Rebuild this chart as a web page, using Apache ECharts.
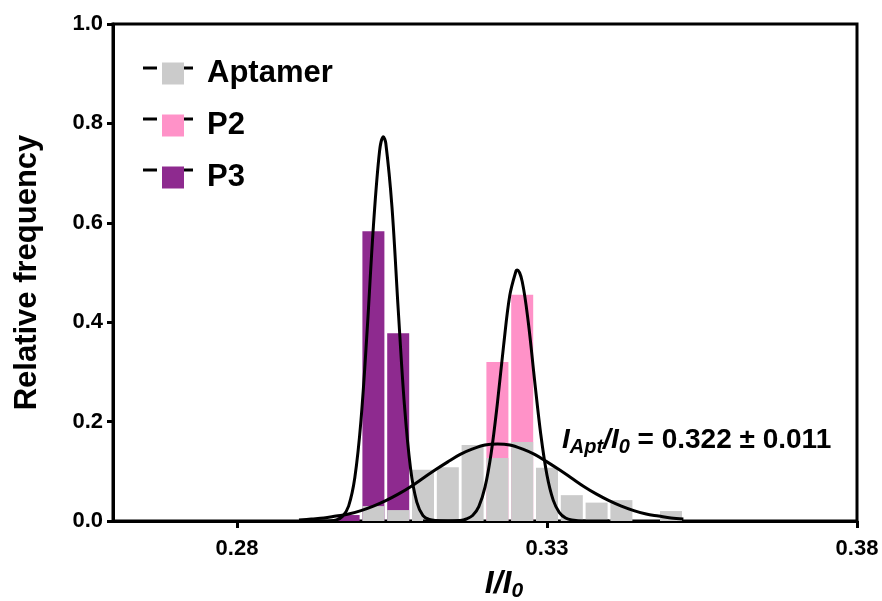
<!DOCTYPE html>
<html>
<head>
<meta charset="utf-8">
<script src="https://cdn.jsdelivr.net/npm/echarts@6/dist/echarts.min.js"></script>
<style>html,body{margin:0;padding:0;background:#fff}#c{width:882px;height:601px}</style>
</head>
<body>
<div id="c"></div>
<script>
// ---- data ----
const xTicks = [0.28, 0.33, 0.38];
const yTicks = [0, 0.2, 0.4, 0.6, 0.8, 1.0];
const seriesNames = ['Aptamer', 'P2', 'P3'];

// histogram bins (bin centre, relative frequency)
const aptX = [0.302, 0.306, 0.310, 0.314, 0.318, 0.322, 0.326, 0.330, 0.334, 0.338, 0.342, 0.350];
const aptY = [0.030, 0.022, 0.103, 0.108, 0.153, 0.127, 0.159, 0.107, 0.052, 0.037, 0.042, 0.020];
const p2X = [0.322, 0.326];
const p2Y = [0.320, 0.455];
const p3X = [0.298, 0.302, 0.306];
const p3Y = [0.012, 0.583, 0.378];

// fitted curves, points
const aptFitX = [0.290,0.292,0.294,0.296,0.298,0.300,0.302,0.304,0.306,0.308,0.310,0.312,0.314,0.316,0.318,0.320,0.322,0.324,0.326,0.328,0.330,0.332,0.334,0.336,0.338,0.340,0.342,0.344,0.346,0.348,0.350,0.352];
const aptFitY = [0.002,0.004,0.006,0.010,0.014,0.021,0.030,0.041,0.054,0.069,0.086,0.103,0.119,0.134,0.145,0.153,0.155,0.153,0.145,0.134,0.119,0.103,0.086,0.069,0.054,0.041,0.030,0.021,0.014,0.010,0.006,0.004];
const p3FitX = [0.290,0.294,0.296,0.297,0.298,0.299,0.300,0.301,0.302,0.303,0.3036,0.304,0.305,0.306,0.307,0.308,0.309,0.310,0.311,0.312,0.316];
const p3FitY = [0.000,0.000,0.002,0.009,0.030,0.087,0.203,0.385,0.593,0.745,0.773,0.760,0.631,0.426,0.234,0.105,0.038,0.011,0.003,0.001,0.000];
const p2FitX = [0.310,0.314,0.316,0.317,0.318,0.319,0.320,0.321,0.322,0.323,0.324,0.325,0.3252,0.326,0.327,0.328,0.329,0.330,0.331,0.332,0.333,0.334,0.336,0.340];
const p2FitY = [0.000,0.000,0.001,0.004,0.011,0.029,0.068,0.137,0.237,0.353,0.454,0.503,0.505,0.482,0.398,0.283,0.174,0.092,0.042,0.017,0.006,0.002,0.000,0.000];

const colors = { Aptamer: '#cbcbcb', P2: '#ff92c8', P3: '#8e2a8f' };
const FONT = '"Liberation Sans", Arial, sans-serif';

const zip = (xs, ys) => xs.map((x, i) => [x, ys[i]]);

const chart = echarts.init(document.getElementById('c'), null, { renderer: 'canvas' });

function barSeries(name, xs, ys) {
  return {
    name: name, type: 'bar', data: zip(xs, ys),
    barWidth: 22, barGap: '-100%',
    itemStyle: { color: colors[name] },
    emphasis: { disabled: true }, animation: false
  };
}
function fitSeries(name, xs, ys) {
  return {
    name: name, type: 'line', data: zip(xs, ys), smooth: 0.35,
    showSymbol: false, symbol: 'none',
    lineStyle: { color: '#000', width: 3 }, z: 5,
    emphasis: { disabled: true }, animation: false
  };
}

// legend geometry
const legTop = 53, legRow = 51, iconL = 157, iconW = 22;
const dashes = [];
seriesNames.forEach((n, i) => {
  const cy = legTop + 15 + i * legRow;
  dashes.push({ type: 'line', shape: { x1: 143, y1: cy, x2: iconL, y2: cy }, style: { stroke: '#000', lineWidth: 3 } });
  dashes.push({ type: 'line', shape: { x1: iconL + iconW, y1: cy, x2: 193, y2: cy }, style: { stroke: '#000', lineWidth: 3 } });
});

const option = {
  animation: false,
  backgroundColor: '#fff',
  textStyle: { fontFamily: FONT },
  grid: { left: 113, right: 25, top: 24, bottom: 80, outerBoundsMode: 'none', containLabel: false, show: true, borderColor: '#000', borderWidth: 3, backgroundColor: 'transparent' },
  legend: {
    data: seriesNames, orient: 'vertical', left: iconL, top: legTop,
    itemWidth: iconW, itemHeight: 22, itemGap: 21, icon: 'rect',
    selectedMode: false,
    textStyle: { fontFamily: FONT, fontSize: 31, fontWeight: 'bold', color: '#000', lineHeight: 30, padding: [0, 0, 0, 18] }
  },
  xAxis: {
    type: 'value', min: 0.26, max: 0.38,
    name: '{i|I/I}{s|0}', nameLocation: 'middle', nameGap: 46,
    nameTextStyle: {
      padding: [0, 0, 0, 38],
      rich: {
        i: { fontFamily: FONT, fontSize: 32, fontWeight: 'bold', fontStyle: 'italic', color: '#000', lineHeight: 34 },
        s: { fontFamily: FONT, fontSize: 21, fontWeight: 'bold', fontStyle: 'italic', color: '#000', lineHeight: 20, padding: [15, 0, 0, 0] }
      }
    },
    axisLine: { show: true, lineStyle: { color: '#000', width: 3 } },
    axisTick: { show: true, customValues: xTicks, length: 7, lineStyle: { color: '#000', width: 3 } },
    axisLabel: { customValues: xTicks, formatter: v => v.toFixed(2), fontFamily: FONT, fontSize: 22, fontWeight: 'bold', color: '#000', margin: 17 },
    splitLine: { show: false }
  },
  yAxis: {
    type: 'value', min: 0, max: 1, interval: 0.2,
    name: 'Relative frequency', nameLocation: 'middle', nameGap: 70, nameRotate: 90,
    nameTextStyle: { fontFamily: FONT, fontSize: 31, fontWeight: 'bold', color: '#000' },
    axisLine: { show: true, lineStyle: { color: '#000', width: 3 } },
    axisTick: { show: true, length: 6, lineStyle: { color: '#000', width: 3 } },
    axisLabel: { formatter: v => v.toFixed(1), fontFamily: FONT, fontSize: 22, fontWeight: 'bold', color: '#000', margin: 10 },
    splitLine: { show: false }
  },
  series: [
    barSeries('P3', p3X, p3Y),
    barSeries('P2', p2X, p2Y),
    barSeries('Aptamer', aptX, aptY),
    fitSeries('Aptamer fit', aptFitX, aptFitY),
    fitSeries('P2 fit', p2FitX, p2FitY),
    fitSeries('P3 fit', p3FitX, p3FitY)
  ],
  graphic: dashes.concat([
    {
      type: 'text', left: 562, top: 423, z: 10,
      style: {
        text: '{i|I}{s|Apt}{i|/I}{s|0}{n| = 0.322 ± 0.011}',
        rich: {
          i: { fontFamily: FONT, fontSize: 28, fontWeight: 'bold', fontStyle: 'italic', fill: '#000', lineHeight: 32 },
          s: { fontFamily: FONT, fontSize: 20, fontWeight: 'bold', fontStyle: 'italic', fill: '#000', lineHeight: 20, padding: [14, 0, 0, 0] },
          n: { fontFamily: FONT, fontSize: 28, fontWeight: 'bold', fill: '#000', lineHeight: 32 }
        }
      }
    }
  ])
};
chart.setOption(option);
</script>
</body>
</html>
